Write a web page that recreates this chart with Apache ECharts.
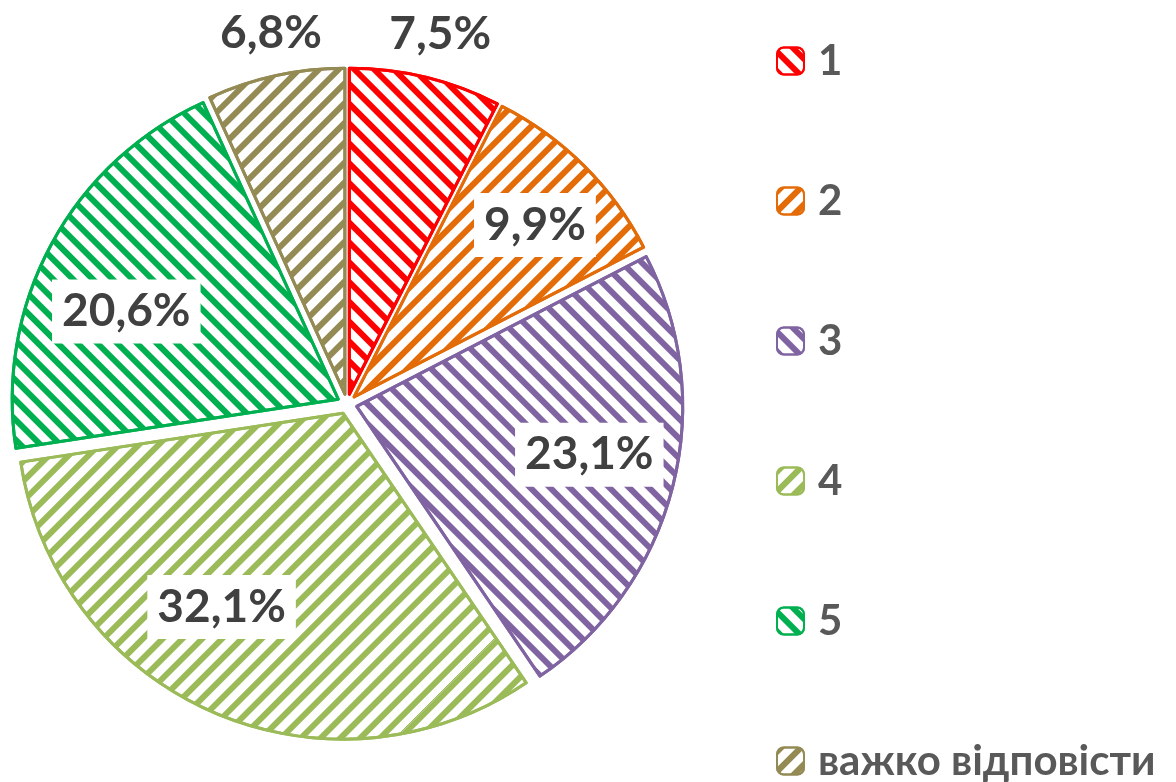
<!DOCTYPE html>
<html>
<head>
<meta charset="utf-8">
<script src="https://cdn.jsdelivr.net/npm/echarts@6/dist/echarts.min.js"></script>
<style>
  html, body { margin: 0; padding: 0; background: #fff; }
  #main { width: 1176px; height: 782px; }
</style>
</head>
<body>
<div id="main"></div>
<script>
// дані діаграми
const categories = ['1', '2', '3', '4', '5', 'важко відповісти'];
const shares = [7.5, 9.9, 23.1, 32.1, 20.6, 6.8];
const sliceColors = ['#FF0000', '#E36C09', '#8064A2', '#9BBB59', '#00B050', '#948A54'];
// напрям штриховки: 1 = "\", -1 = "/"
const stripeDir = [1, -1, 1, -1, 1, -1];
// підписи поза сектором
const outsideLabel = [true, false, false, false, false, true];

const FONT = 'Lato, "Open Sans", "Noto Sans", sans-serif';
const center = [347, 404];
// невеликі зсуви підписів, як у Excel ("найкраще розташування")
const labelNudge = [[4, 2], [11, -1], [-1, -11], [-25, -27], [0, 27], [5, 2]];

const fmt = (p) => p.value.toFixed(1).replace('.', ',') + '%';

const stripes = (i) => ({
    symbol: 'rect',
    symbolSize: 1,
    color: sliceColors[i],
    dashArrayX: [1, 0],
    dashArrayY: [6, 8],
    rotation: stripeDir[i] * Math.PI / 4
});

const pieData = categories.map((name, i) => ({
    name: name,
    value: shares[i],
    selected: true,
    itemStyle: {
        color: '#fff',
        borderColor: sliceColors[i],
        borderWidth: 3,
        decal: stripes(i)
    }
}));

// прозорі серії лише для підписів
const labelData = (showIt) => categories.map((name, i) => ({
    name: name,
    value: shares[i],
    selected: true,
    label: { show: showIt(i) }
}));

const labelSeries = (radius, showIt, boxed) => ({
    type: 'pie',
    center: center,
    radius: radius,
    selectedMode: 'multiple',
    selectedOffset: 10,
    silent: true,
    avoidLabelOverlap: false,
    itemStyle: { color: 'rgba(0,0,0,0)', borderWidth: 0 },
    emphasis: { disabled: true },
    labelLine: { show: false },
    label: {
        position: 'inside',
        formatter: fmt,
        fontFamily: FONT,
        fontWeight: 'bold',
        fontSize: 46,
        color: '#404040',
        backgroundColor: boxed ? '#fff' : 'transparent',
        padding: boxed ? [9, 10] : 0
    },
    labelLayout: (p) => ({ dx: labelNudge[p.dataIndex][0], dy: labelNudge[p.dataIndex][1] }),
    data: labelData(showIt)
});

const chart = echarts.init(document.getElementById('main'));
chart.setOption({
    animation: false,
    legend: {
        orient: 'vertical',
        left: 776,
        top: 40,
        padding: 0,
        height: 800,
        itemGap: 98,
        itemWidth: 27,
        itemHeight: 27,
        icon: 'roundRect',
        selectedMode: false,
        data: categories,
        textStyle: {
            fontFamily: FONT,
            fontWeight: 'bold',
            fontSize: 42,
            color: '#595959',
            padding: [0, 0, 0, 9]
        }
    },
    series: [
        {
            type: 'pie',
            center: center,
            radius: 326,
            selectedMode: 'multiple',
            selectedOffset: 10,
            avoidLabelOverlap: false,
            label: { show: false },
            labelLine: { show: false },
            emphasis: { disabled: true },
            data: pieData
        },
        labelSeries([150, 326], (i) => !outsideLabel[i], true),
        labelSeries([326, 412], (i) => outsideLabel[i], false)
    ]
});
</script>
</body>
</html>
